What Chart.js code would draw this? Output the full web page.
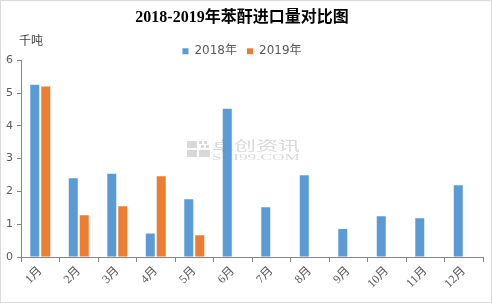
<!DOCTYPE html>
<html>
<head>
<meta charset="utf-8">
<script src="https://cdn.jsdelivr.net/npm/chart.js@4/dist/chart.umd.min.js"></script>
<style>
  html, body { margin: 0; padding: 0; background: #fff; }
  #wrap { width: 492px; height: 303px; box-sizing: border-box; border: 1px solid #d9d9d9; position: relative; }
  canvas { display: block; }
</style>
</head>
<body>
<div id="wrap"><canvas id="chart" width="490" height="301"></canvas></div>
<script>
// chart data
const months = ['1月', '2月', '3月', '4月', '5月', '6月', '7月', '8月', '9月', '10月', '11月', '12月'];
const imports2018 = [5.25, 2.4, 2.54, 0.72, 1.76, 4.52, 1.52, 2.49, 0.85, 1.24, 1.18, 2.19];
const imports2019 = [5.2, 1.27, 1.55, 2.46, 0.66, null, null, null, null, null, null, null];
const yTicks = [0, 1, 2, 3, 4, 5, 6];

const axisColor = '#868686';
const textColor = '#595959';

// draw text squeezed/stretched to a given width
function fitText(ctx, text, x, y, width) {
  const w = ctx.measureText(text).width;
  ctx.save();
  ctx.translate(x, y);
  ctx.scale(width / w, 1);
  ctx.fillText(text, 0, 0);
  ctx.restore();
}

// unit label, faint watermark, and a tighter legend box
const extrasPlugin = {
  id: 'extras',
  beforeLayout(chart) {
    const lg = chart.legend;
    if (lg && !lg._trimmed) {
      const origFit = lg.fit.bind(lg);
      lg.fit = function () {
        origFit();
        this.height -= 7;
      };
      lg._trimmed = true;
    }
  },
  beforeDatasetsDraw(chart) {
    const ctx = chart.ctx;
    ctx.save();
    ctx.fillStyle = 'rgba(200,200,200,0.7)';
    // logo blocks
    ctx.fillRect(186, 140, 10, 7);
    ctx.fillRect(186, 149, 10, 7);
    ctx.fillRect(198, 149, 11, 7);
    ctx.fillRect(198, 140, 3, 3);
    ctx.fillRect(203, 140, 3, 3);
    ctx.fillRect(200, 144, 3, 3);
    ctx.fillRect(205, 144, 3, 3);
    ctx.textBaseline = 'top';
    ctx.font = '13px "Noto Sans CJK SC"';
    fitText(ctx, '卓创资讯', 211, 138, 88);
    ctx.font = '9px "Liberation Serif"';
    fitText(ctx, 'SCI99.COM', 211, 152, 88);
    ctx.restore();
  },
  afterDraw(chart) {
    const ctx = chart.ctx;
    ctx.save();
    ctx.fillStyle = '#404040';
    ctx.font = '12px "Noto Sans CJK SC"';
    ctx.textBaseline = 'middle';
    ctx.fillText('千吨', 18, 39);
    ctx.restore();
  }
};

new Chart(document.getElementById('chart').getContext('2d'), {
  type: 'bar',
  data: {
    labels: months,
    datasets: [
      { label: '2018年', data: imports2018, backgroundColor: '#5B9BD5' },
      { label: '2019年', data: imports2019, backgroundColor: '#ED7D31' }
    ]
  },
  options: {
    responsive: false,
    animation: false,
    categoryPercentage: 0.57,
    barPercentage: 0.82,
    layout: { padding: { left: 0, right: 8, top: 0, bottom: 0 } },
    plugins: {
      title: {
        display: true,
        text: '2018-2019年苯酐进口量对比图',
        color: '#000',
        font: { family: '"Liberation Serif", "Noto Sans CJK SC"', size: 16, weight: 'bold' },
        padding: { top: 7, bottom: 8 }
      },
      legend: {
        display: true,
        position: 'top',
        labels: {
          color: textColor,
          font: { family: '"DejaVu Sans", "Noto Sans CJK SC"', size: 12 },
          boxWidth: 6,
          boxHeight: 6,
          padding: 10
        }
      },
      tooltip: { enabled: false }
    },
    scales: {
      x: {
        offset: true,
        grid: { display: true, offset: true, drawOnChartArea: false, drawTicks: true, tickLength: 5, color: axisColor },
        border: { display: true, color: axisColor },
        ticks: {
          color: textColor,
          font: { family: '"Liberation Serif", "Noto Sans CJK SC"', size: 12 },
          maxRotation: 45,
          minRotation: 45,
          padding: 2
        },
        afterFit(scale) { scale.height = 45; }
      },
      y: {
        min: 0,
        max: 6,
        grid: { display: true, drawOnChartArea: false, drawTicks: true, tickLength: 4, color: axisColor },
        border: { display: true, color: axisColor },
        ticks: {
          stepSize: 1,
          color: textColor,
          font: { family: '"DejaVu Sans", sans-serif', size: 11 },
          padding: 4,
          callback: (v) => yTicks.includes(v) ? String(v) : ''
        },
        afterFit(scale) { scale.width = 20; }
      }
    }
  },
  plugins: [extrasPlugin]
});
</script>
</body>
</html>
